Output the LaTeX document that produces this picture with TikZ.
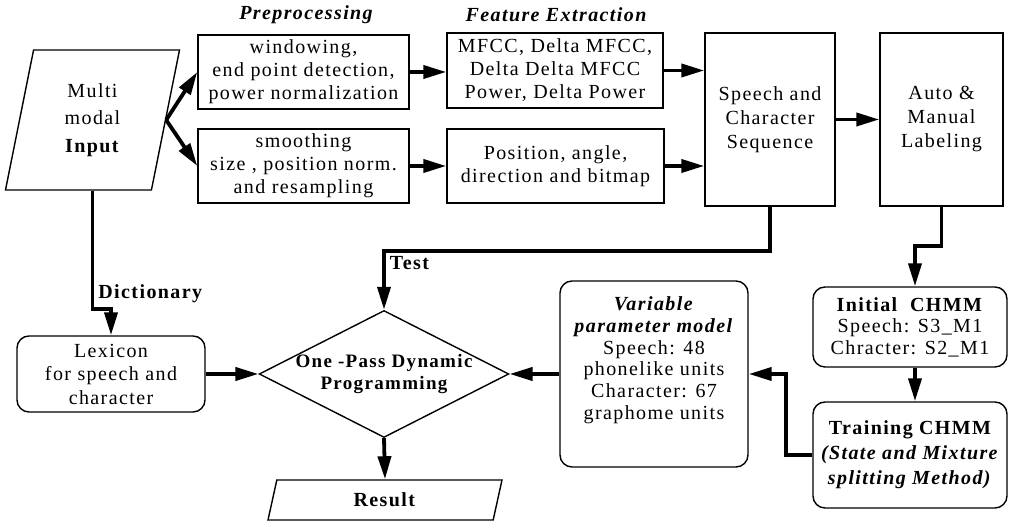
\documentclass[tikz,border=0pt]{standalone}
\usepackage{fontspec}
\setmainfont{Liberation Serif}[LetterSpace=7]
\usepackage{tikz}
\usetikzlibrary{shapes.geometric, arrows.meta, positioning, calc}
\tikzset{
  %% ---- boxes ----
  proc/.style    = {rectangle, draw, line width=0.7pt,
                    align=center, inner sep=0pt},
  roundproc/.style = {proc, rounded corners=6pt},
  slanted/.style = {trapezium, draw, line width=0.7pt, align=center,
                    inner sep=0pt, trapezium stretches body,
                    trapezium left angle=#1, trapezium right angle=180-#1},
  decision/.style = {diamond, draw, line width=0.7pt, aspect=2,
                    align=center, inner xsep=-9pt, inner ysep=3.75pt},
  %% ---- arrows ----
  arr/.style     = {-{Triangle[length=11.5pt, width=6.5pt]}, line width=1.9pt},
}

\begin{document}
\begin{tikzpicture}[
  x=0.5pt, y=-0.5pt,
  every node/.style = {font=\fontsize{10}{11.5}\selectfont},
  hdr/.style = {font=\fontsize{10}{11.5}\selectfont\bfseries\itshape},
  lbl/.style = {font=\fontsize{10}{11.5}\selectfont\bfseries, inner sep=2pt}
]
\useasboundingbox (0,0) rectangle (1009,522);

%% ── Top row: input, preprocessing, features ──────────────────────────────
\node[slanted=69, minimum width=87pt, minimum height=70pt,
      font=\fontsize{10}{13.75}\selectfont]
  (input) at (92.5,120) {Multi\\modal\\\textbf{Input}};

\node[hdr] (prep) at (306,15) {Preprocessing};
\node[hdr] (feat) at (556,15) {Feature Extraction};

\node[proc, minimum width=105.5pt, minimum height=37pt]
  (win)    at (303.5,72)  {windowing,\\end point detection,\\power normalization};
\node[proc, minimum width=105.5pt, minimum height=37pt]
  (smooth) at (303.5,166) {smoothing\\size , position norm.\\and resampling};

\node[proc, minimum width=108pt, minimum height=37.5pt]
  (mfcc) at (555,70.5) {MFCC, Delta MFCC,\\Delta Delta MFCC\\Power, Delta Power};
\node[proc, minimum width=108.5pt, minimum height=37pt]
  (pos)  at (555.5,166) {Position, angle,\\direction and bitmap};

\node[proc, minimum width=65pt, minimum height=86.5pt,
      font=\fontsize{10}{12}\selectfont]
  (seq)  at (770,119.5) {Speech and\\Character\\Sequence};
\node[proc, minimum width=61.5pt, minimum height=86.5pt,
      font=\fontsize{10}{12}\selectfont]
  (labl) at (941.5,119.5) {Auto \&\\Manual\\Labeling};

%% ── Bottom row: lexicon, decoder, models ─────────────────────────────────
\node[roundproc, minimum width=94pt, minimum height=38pt,
      font=\fontsize{10}{11.75}\selectfont]
  (lex) at (111,374) {Lexicon\\for speech and\\character};

\node[decision, minimum width=124pt, minimum height=63.5pt,
      font=\fontsize{9.5}{11}\selectfont\bfseries]
  (dp) at (384,374) {One -Pass Dynamic\\Programming};

\node[slanted=58, minimum width=117pt, minimum height=20pt]
  (res) at (385,500) {\textbf{Result}};

\node[roundproc, minimum width=94pt, minimum height=93pt, text depth=16pt,
      font=\fontsize{10}{10.9}\selectfont]
  (varm) at (654,374) {\textbf{\textit{Variable}}\\\textbf{\textit{parameter model}}\\
                       Speech: 48\\phonelike units\\Character: 67\\graphome units};

\node[roundproc, minimum width=97pt, minimum height=40pt,
      font=\fontsize{10}{10.75}\selectfont]
  (init) at (910,327) {\textbf{Initial\ \ CHMM}\\Speech: S3\_M1\\Chracter: S2\_M1};
\node[roundproc, minimum width=97pt, minimum height=53pt,
      font=\fontsize{10}{12.5}\selectfont\bfseries]
  (train) at (910,455) {Training CHMM\\\textit{(State and Mixture}\\\textit{splitting Method)}};

%% ── Arrows ───────────────────────────────────────────────────────────────
\draw[arr] (input.east) -- (win.west);
\draw[arr] (input.east) -- (smooth.west);
\draw[arr] (win.east) -- (win.east -| mfcc.west);
\draw[arr] (smooth.east) -- (smooth.east -| pos.west);
\draw[arr] (mfcc.east) -- (mfcc.east -| seq.west);
\draw[arr] (pos.east) -- (pos.east -| seq.west);
\draw[arr] (seq.east) -- (seq.east -| labl.west);

\draw[arr] (seq.south) -- ++(0,44) -| node[lbl, pos=0.5, below right]{Test} (dp.north);
\draw[arr] (labl.south) -- ++(0,39) -| ([xshift=2.5pt]init.north);
\draw[arr] ([xshift=2.5pt]init.south) -- ([xshift=2.5pt]train.north);
\draw[arr] (train.west) -- ++(-26,0) |- (varm.east);
\draw[arr] (varm.west) -- (dp.east);
\draw[arr] (lex.east) -- (dp.west);
\draw[arr] (input.south) -- ++(0,118) node[lbl, above right]{Dictionary} -| (lex.north);
\draw[arr] (dp.south) -- (res.north);

\end{tikzpicture}
\end{document}
